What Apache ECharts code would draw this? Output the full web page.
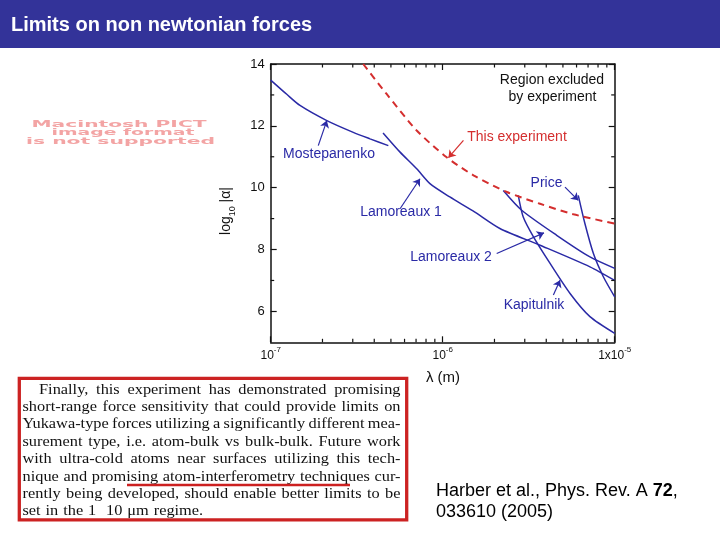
<!DOCTYPE html>
<html><head><meta charset="utf-8">
<script src="https://cdn.jsdelivr.net/npm/echarts@6/dist/echarts.min.js"></script>
<style>html,body{margin:0;padding:0;background:#fff}#c{width:720px;height:540px}</style>
</head><body><div id="c"></div>
<script>
// ---- data (lambda in metres, log10|alpha|) ----
const mostLambda = [1.0e-7, 1.24e-7, 1.48e-7, 2.12e-7, 3.02e-7, 3.78e-7, 4.83e-7];
const mostAlpha  = [13.48, 13.02, 12.66, 12.17, 11.79, 11.58, 11.36];

const lam1Lambda = [4.5e-7, 5.65e-7, 7.06e-7, 8.43e-7, 1.1e-6, 1.5e-6, 2.15e-6, 3.68e-6, 7.18e-6, 1.0e-5];
const lam1Alpha  = [11.77, 11.15, 10.61, 10.13, 9.70, 9.25, 8.68, 8.14, 7.44, 7.0];

const lam2Lambda = [2.25e-6, 2.88e-6, 4.6e-6, 7.18e-6, 1.0e-5];
const lam2Alpha  = [9.91, 9.27, 8.46, 7.76, 7.39];

const kapLambda = [2.75e-6, 2.94e-6, 3.37e-6, 4.21e-6, 5.5e-6, 7.18e-6, 1.0e-5];
const kapAlpha  = [9.75, 9.05, 8.41, 7.55, 6.58, 5.83, 5.29];

const priceLambda = [6.14e-6, 6.71e-6, 7.52e-6, 8.59e-6, 1.0e-5];
const priceAlpha  = [9.75, 8.84, 7.87, 7.12, 6.47];

const thisLambda = [3.45e-7, 4.72e-7, 7.06e-7, 1.05e-6, 1.51e-6, 2.36e-6, 3.68e-6, 5.75e-6, 1.0e-5];
const thisAlpha  = [14.0, 13.03, 11.85, 10.99, 10.40, 9.86, 9.48, 9.14, 8.84];

const xMinorTicks = [2e-7,3e-7,4e-7,5e-7,6e-7,7e-7,8e-7,9e-7,2e-6,3e-6,4e-6,5e-6,6e-6,7e-6,8e-6,9e-6];
const yMajorTicks = [6, 8, 10, 12, 14];
const yMinorTicks = [7, 9, 11, 13];
const X_MIN = 1e-7, X_MAX = 1e-5, Y_MIN = 5, Y_MAX = 14;

const titleText = 'Limits on non newtonian forces';
const pictLines = ['Macintosh PICT', 'image format', 'is not supported'];
const paragraphLines = [
  'Finally, this experiment has demonstrated promising',
  'short-range force sensitivity that could provide limits on',
  'Yukawa-type forces utilizing a significantly different mea-',
  'surement type, i.e. atom-bulk vs bulk-bulk. Future work',
  'with ultra-cold atoms near surfaces utilizing this tech-',
  'nique and promising atom-interferometry techniques cur-',
  'rently being developed, should enable better limits to be',
  'set in the 1  10 \u03bcm regime.'
];
const citeLine1 = 'Harber et al., Phys. Rev. A ';
const citeVol = '72';
const citeLine2 = '033610 (2005)';

// ---- styles ----
const BLUE = '#2a2aa6', RED = '#d42e2e', INK = '#111';
const SANS = '"Liberation Sans", Arial, sans-serif';
const zip = (a, b) => a.map((v, i) => [v, b[i]]);

// annotation arrows (data space) and labels (pixels)
const arrows = {
  most:  [[1.89e-7, 11.36], [2.12e-7, 12.17]],
  lam1:  [[5.65e-7, 9.32], [7.38e-7, 10.29]],
  lam2:  [[2.06e-6, 7.87], [3.88e-6, 8.54]],
  kap:   [[4.4e-6, 6.53], [4.81e-6, 7.01]],
  price: [[5.14e-6, 10.02], [6.14e-6, 9.59]],
  thisE: [[1.32e-6, 11.53], [1.08e-6, 10.97]]
};
function arrowMark(key, color) {
  const a = arrows[key];
  return {
    silent: true, animation: false, symbol: ['none', 'arrow'], symbolSize: 7,
    lineStyle: { color: color, width: 1.2, type: 'solid' }, label: { show: false },
    emphasis: { disabled: true },
    data: [[{ coord: a[0] }, { coord: a[1] }]]
  };
}
function lineSeries(name, data, color, key, dashed) {
  return {
    name, type: 'line', data, showSymbol: false, symbol: 'none', smooth: 0.25,
    lineStyle: { color, width: dashed ? 2 : 1.5, type: dashed ? [7, 5] : 'solid' },
    animation: false, z: 3, markLine: arrowMark(key, color)
  };
}

const graphics = [];
graphics.push({ type: 'rect', shape: { x: 0, y: 0, width: 720, height: 48 }, style: { fill: '#333399' } });
graphics.push({ type: 'text', x: 11, y: 25, style: { text: titleText, font: 'bold 20px ' + SANS, fill: '#fff', align: 'left', verticalAlign: 'middle' } });

// PICT placeholder
const mctx = document.createElement('canvas').getContext('2d');
const pictFont = 'bold 9px "DejaVu Sans", sans-serif';
mctx.font = pictFont;
const pictCx = [119, 123, 120.5], pictCy = [124.2, 132.6, 141.3], pictW = [175, 143, 189];
pictLines.forEach((t, i) => {
  const w = mctx.measureText(t).width;
  graphics.push({ type: 'text', x: pictCx[i], y: pictCy[i], scaleX: pictW[i] / w,
    style: { text: t, font: pictFont, fill: '#f3a4a4', align: 'center', verticalAlign: 'middle' } });
});

// chart annotation labels
const labels = [
  ['Mostepanenko', 329, 154, BLUE], ['Lamoreaux 1', 401, 212.5, BLUE], ['Lamoreaux 2', 451, 257.5, BLUE],
  ['Kapitulnik', 534, 305, BLUE], ['Price', 546.5, 183.5, BLUE], ['This experiment', 517, 137, RED],
  ['Region excluded', 552, 80, INK], ['by experiment', 552.5, 97, INK]
];
labels.forEach(l => graphics.push({ type: 'text', x: l[1], y: l[2],
  style: { text: l[0], font: '14px ' + SANS, fill: l[3], align: 'center', verticalAlign: 'middle' } }));

// axis names
graphics.push({ type: 'text', x: 228, y: 211, rotation: Math.PI / 2,
  style: { text: '{a|log}{b|10}{a| |\u03b1|}', align: 'center', verticalAlign: 'middle',
    rich: { a: { font: '14px ' + SANS, fill: INK, lineHeight: 18, verticalAlign: 'top' },
            b: { font: '9px ' + SANS, fill: INK, lineHeight: 9, verticalAlign: 'bottom' } } } });
graphics.push({ type: 'text', x: 443, y: 378,
  style: { text: '\u03bb (m)', font: '15px ' + SANS, fill: INK, align: 'center', verticalAlign: 'middle' } });

// paragraph box
graphics.push({ type: 'rect', shape: { x: 19.3, y: 378.3, width: 387.4, height: 141.5 },
  style: { fill: 'none', stroke: '#cc2222', lineWidth: 3.3 } });
const PARA_SIZE = 15, PARA_SX = 1.09;
const paraFont = PARA_SIZE + 'px "Liberation Serif", "Times New Roman", serif';
mctx.font = paraFont;
paragraphLines.forEach((line, i) => {
  const words = line.split(' ');
  const left = i === 0 ? 39 : 22.5, right = 400.5;
  const widths = words.map(w => mctx.measureText(w).width * PARA_SX);
  const total = widths.reduce((a, b) => a + b, 0);
  const last = i === paragraphLines.length - 1;
  const gap = last ? mctx.measureText(' ').width * PARA_SX * 1.2 : (right - left - total) / (words.length - 1);
  const baseline = 393.5 + i * 17.4;
  let x = left;
  words.forEach((w, j) => {
    if (w) graphics.push({ type: 'text', x: x, y: baseline - 3.8, scaleX: PARA_SX,
      style: { text: w, font: paraFont, fill: INK, align: 'left', verticalAlign: 'middle' } });
    x += widths[j] + gap;
  });
});
// hand-drawn red underline
graphics.push({ type: 'line', shape: { x1: 127, y1: 485, x2: 350, y2: 485 },
  style: { stroke: '#cc2020', lineWidth: 2.6 } });

// citation
graphics.push({ type: 'text', x: 436, y: 491.5,
  style: { text: '{n|' + citeLine1 + '}{v|' + citeVol + '}{n|,}', align: 'left', verticalAlign: 'middle',
    rich: { n: { font: '18px ' + SANS, fill: '#000' }, v: { font: 'bold 18px ' + SANS, fill: '#000' } } } });
graphics.push({ type: 'text', x: 436, y: 512.5,
  style: { text: citeLine2, font: '18px ' + SANS, fill: '#000', align: 'left', verticalAlign: 'middle' } });

const axisLineStyle = { show: true, lineStyle: { color: INK, width: 1.5 } };
const majorTick = { show: true, inside: true, length: 6, lineStyle: { color: INK, width: 1.2 } };
const xLabel = {
  margin: 3, color: INK,
  formatter: v => { const e = Math.round(Math.log10(v)); return (e === -5 ? '{b|1x10}' : '{b|10}') + '{s|' + e + '}'; },
  rich: { b: { fontSize: 12, fontFamily: SANS, lineHeight: 16, verticalAlign: 'bottom', color: INK },
          s: { fontSize: 8, fontFamily: SANS, lineHeight: 8, verticalAlign: 'top', color: INK } }
};

function minorTickSeries(data, isX) {
  return {
    type: 'custom', silent: true, animation: false, z: 6, data,
    renderItem: (params, api) => {
      const L = 3.5, st = { stroke: INK, lineWidth: 1.2 };
      if (isX) {
        const b = api.coord([api.value(0), Y_MIN]), t = api.coord([api.value(0), Y_MAX]);
        return { type: 'group', children: [
          { type: 'line', shape: { x1: b[0], y1: b[1], x2: b[0], y2: b[1] - L }, style: st },
          { type: 'line', shape: { x1: t[0], y1: t[1], x2: t[0], y2: t[1] + L }, style: st } ] };
      }
      const l = api.coord([X_MIN, api.value(1)]), r = api.coord([X_MAX, api.value(1)]);
      return { type: 'group', children: [
        { type: 'line', shape: { x1: l[0], y1: l[1], x2: l[0] + L, y2: l[1] }, style: st },
        { type: 'line', shape: { x1: r[0], y1: r[1], x2: r[0] - L, y2: r[1] }, style: st } ] };
    }
  };
}

const chart = echarts.init(document.getElementById('c'), null, { renderer: 'canvas' });
chart.setOption({
  animation: false,
  backgroundColor: '#fff',
  grid: { left: 270.7, right: 105.3, top: 64, bottom: 197.7, containLabel: false },
  xAxis: [
    { type: 'log', logBase: 10, min: X_MIN, max: X_MAX, position: 'bottom', axisLine: axisLineStyle,
      axisTick: majorTick, axisLabel: xLabel, splitLine: { show: false } },
    { type: 'log', logBase: 10, min: X_MIN, max: X_MAX, position: 'top', axisLine: axisLineStyle,
      axisTick: majorTick, axisLabel: { show: false }, splitLine: { show: false } }
  ],
  yAxis: [
    { type: 'value', min: Y_MIN, max: Y_MAX, interval: 1, position: 'left', axisLine: axisLineStyle,
      axisTick: Object.assign({ customValues: yMajorTicks }, majorTick),
      axisLabel: { customValues: yMajorTicks, margin: 6, color: INK, fontSize: 13, fontFamily: SANS },
      splitLine: { show: false } },
    { type: 'value', min: Y_MIN, max: Y_MAX, interval: 1, position: 'right', axisLine: axisLineStyle,
      axisTick: Object.assign({ customValues: yMajorTicks }, majorTick),
      axisLabel: { show: false }, splitLine: { show: false } }
  ],
  series: [
    lineSeries('Mostepanenko', zip(mostLambda, mostAlpha), BLUE, 'most'),
    lineSeries('Lamoreaux 1', zip(lam1Lambda, lam1Alpha), BLUE, 'lam1'),
    lineSeries('Lamoreaux 2', zip(lam2Lambda, lam2Alpha), BLUE, 'lam2'),
    lineSeries('Kapitulnik', zip(kapLambda, kapAlpha), BLUE, 'kap'),
    lineSeries('Price', zip(priceLambda, priceAlpha), BLUE, 'price'),
    lineSeries('This experiment', zip(thisLambda, thisAlpha), RED, 'thisE', true),
    minorTickSeries(xMinorTicks.map(v => [v, Y_MIN]), true),
    minorTickSeries(yMinorTicks.map(v => [X_MIN, v]), false)
  ],
  graphic: graphics
});
</script>
</body></html>
